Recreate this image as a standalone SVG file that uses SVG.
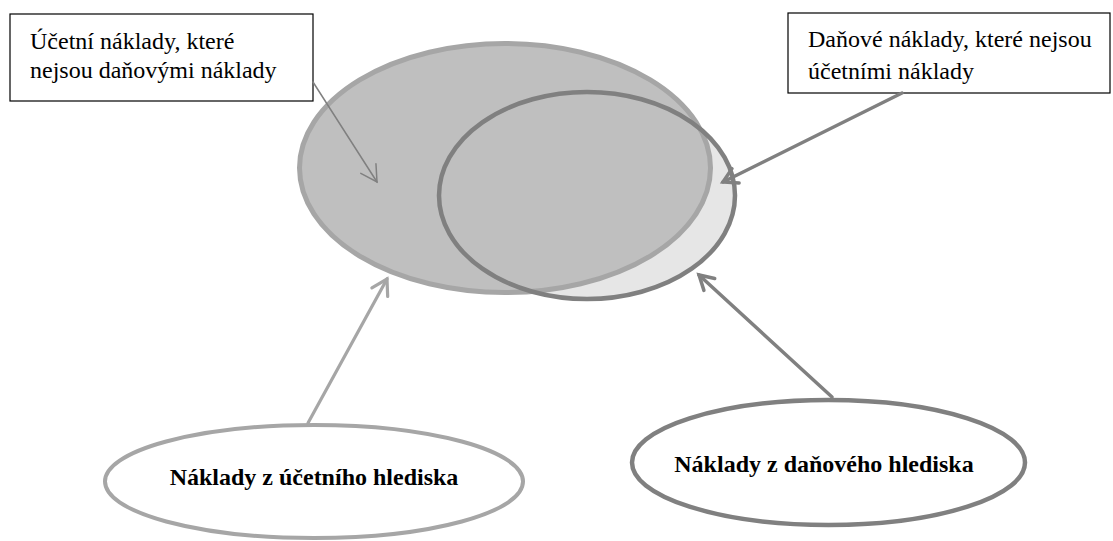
<svg xmlns="http://www.w3.org/2000/svg" width="1113" height="541" viewBox="0 0 1113 541">
<style>
.lbl{font-family:"Liberation Serif","Times New Roman",serif;font-size:24px;fill:#000}
.bold{font-weight:bold}
.box{fill:#fff;stroke:#000;stroke-width:1.2}
.light{stroke:#a6a6a6}
.dark{stroke:#808080}
.conn{fill:none;stroke-linecap:round}
</style>
<defs>
<marker id="ahDark" markerUnits="userSpaceOnUse" orient="auto" overflow="visible" markerWidth="1" markerHeight="1" refX="0" refY="0">
<path d="M-14,-8 L0,0 L-14,8" fill="none" stroke="#808080" stroke-width="3.5" stroke-linecap="round" stroke-linejoin="miter"/>
</marker>
<marker id="ahThin" markerUnits="userSpaceOnUse" orient="auto" overflow="visible" markerWidth="1" markerHeight="1" refX="0" refY="0">
<path d="M-16,-9 L0,0 L-16,9" fill="none" stroke="#808080" stroke-width="1.5" stroke-linecap="round"/>
</marker>
<marker id="ahLight" markerUnits="userSpaceOnUse" orient="auto" overflow="visible" markerWidth="1" markerHeight="1" refX="0" refY="0">
<path d="M-15,-9 L0,0 L-15,9" fill="none" stroke="#a6a6a6" stroke-width="3.2" stroke-linecap="round"/>
</marker>
</defs>

<g id="venn">
<ellipse id="tax-fill" cx="587" cy="195.5" rx="148" ry="103.5" fill="#e6e6e6"/>
<ellipse id="accounting-costs" cx="505" cy="168" rx="205.5" ry="124.5" fill="#bfbfbf" stroke="#a6a6a6" stroke-width="5"/>
<ellipse id="tax-costs" cx="587" cy="195.5" rx="148" ry="103.5" fill="none" stroke="#808080" stroke-width="4.5"/>
</g>

<g id="node-box-left">
<rect class="box" x="10" y="14" width="303" height="87"/>
<text class="lbl" x="30" y="49">Účetní náklady, které</text>
<text class="lbl" x="30" y="78">nejsou daňovými náklady</text>
</g>

<g id="node-box-right">
<rect class="box" x="788" y="13" width="322" height="80"/>
<text class="lbl" x="808" y="47">Daňové náklady, které nejsou</text>
<text class="lbl" x="808" y="79">účetními náklady</text>
</g>

<g id="node-accounting">
<ellipse cx="314" cy="481.5" rx="209" ry="56.5" fill="#fff" stroke="#a6a6a6" stroke-width="4"/>
<text class="lbl bold" x="314" y="485" text-anchor="middle">Náklady z účetního hlediska</text>
</g>

<g id="node-tax">
<ellipse cx="828.5" cy="462.5" rx="196.5" ry="62.5" fill="#fff" stroke="#808080" stroke-width="4.5"/>
<text class="lbl bold" x="824" y="472" text-anchor="middle">Náklady z daňového hlediska</text>
</g>

<g id="connectors">
<line class="conn dark" x1="313" y1="82" x2="377" y2="182" stroke-width="1.5" marker-end="url(#ahThin)"/>
<line class="conn dark" x1="902" y1="93" x2="723" y2="182" stroke-width="3.5" marker-end="url(#ahDark)"/>
<line class="conn light" x1="308" y1="423" x2="387" y2="279" stroke-width="3.2" marker-end="url(#ahLight)"/>
<line class="conn dark" x1="832" y1="397" x2="699" y2="275" stroke-width="3.5" marker-end="url(#ahDark)"/>
</g>
</svg>
